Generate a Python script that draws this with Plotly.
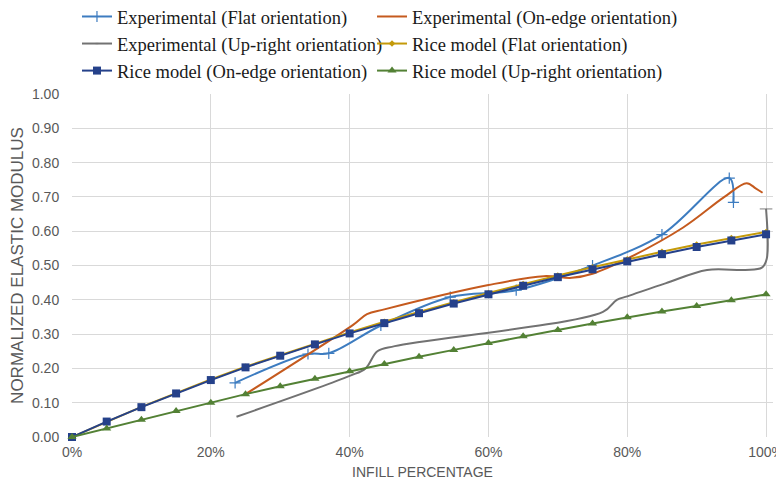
import plotly.graph_objects as go

# ---------------- data ----------------
infill_model = [0, 5, 10, 15, 20, 25, 30, 35, 40, 45, 50, 55, 60, 65, 70, 75, 80, 85, 90, 95, 100]
rice_flat = [0, 0.045, 0.088, 0.128, 0.168, 0.205, 0.239, 0.272, 0.305, 0.336, 0.365, 0.393,
             0.420, 0.446, 0.471, 0.495, 0.518, 0.540, 0.561, 0.580, 0.598]
rice_onedge = [0, 0.045, 0.087, 0.127, 0.166, 0.203, 0.237, 0.270, 0.302, 0.332, 0.361, 0.389,
               0.416, 0.441, 0.466, 0.489, 0.512, 0.533, 0.554, 0.573, 0.591]
rice_upright = [0, 0.025, 0.050, 0.076, 0.100, 0.125, 0.148, 0.170, 0.192, 0.213, 0.234, 0.254,
                0.274, 0.294, 0.312, 0.331, 0.349, 0.366, 0.382, 0.399, 0.416]

exp_flat_x = [23.5, 34, 37, 44.5, 54.5, 64, 75, 85, 94.7, 95.3]
exp_flat_y = [0.158, 0.242, 0.244, 0.325, 0.408, 0.428, 0.500, 0.590, 0.755, 0.684]

exp_edge_x = [25, 40.5, 42.5, 45, 60, 68, 72, 75, 80, 88, 94, 97.2, 98.5, 99.5]
exp_edge_y = [0.125, 0.327, 0.358, 0.372, 0.443, 0.469, 0.464, 0.476, 0.520, 0.610, 0.700, 0.740, 0.725, 0.712]

exp_up_x = [23.7, 40, 42.3, 44, 46.5, 76.5, 78.5, 80, 85.5, 91.5, 97, 99.4, 100.1, 100]
exp_up_y = [0.059, 0.178, 0.200, 0.250, 0.265, 0.365, 0.400, 0.410, 0.448, 0.487, 0.487, 0.494, 0.520, 0.665]

x_ticks = [0, 20, 40, 60, 80, 100]
x_tick_text = ["0%", "20%", "40%", "60%", "80%", "100%"]
y_ticks = [0, 0.1, 0.2, 0.3, 0.4, 0.5, 0.6, 0.7, 0.8, 0.9, 1.0]

# ---------------- figure ----------------
fig = go.Figure()

fig.add_trace(go.Scatter(
    x=exp_flat_x, y=exp_flat_y, name="Experimental (Flat orientation)", legend="legend",
    mode="lines+markers", line=dict(color="#3D7CC0", width=2, shape="spline"),
    marker=dict(symbol="cross-thin", size=8, line=dict(color="#3D7CC0", width=1.2)),
    cliponaxis=False))
fig.add_trace(go.Scatter(
    x=exp_edge_x, y=exp_edge_y, name="Experimental (On-edge orientation)", legend="legend2",
    mode="lines", line=dict(color="#C55A1E", width=2, shape="spline"),
    cliponaxis=False))
up_marker_sizes = [0] * (len(exp_up_x) - 1) + [9]
fig.add_trace(go.Scatter(
    x=exp_up_x, y=exp_up_y, name="Experimental (Up-right orientation)", legend="legend",
    mode="lines+markers", line=dict(color="#727272", width=2, shape="spline"),
    marker=dict(symbol="line-ew", size=up_marker_sizes, line=dict(color="#727272", width=1.3)),
    cliponaxis=False))
fig.add_trace(go.Scatter(
    x=infill_model, y=rice_flat, name="Rice model (Flat orientation)", legend="legend2",
    mode="lines+markers", line=dict(color="#C49A0A", width=2),
    marker=dict(symbol="diamond", size=5, color="#C49A0A"),
    cliponaxis=False))
fig.add_trace(go.Scatter(
    x=infill_model, y=rice_onedge, name="Rice model (On-edge orientation)", legend="legend",
    mode="lines+markers", line=dict(color="#25418A", width=2),
    marker=dict(symbol="square", size=8, color="#25418A"),
    cliponaxis=False))
fig.add_trace(go.Scatter(
    x=infill_model, y=rice_upright, name="Rice model (Up-right orientation)", legend="legend2",
    mode="lines+markers", line=dict(color="#538135", width=2),
    marker=dict(symbol="triangle-up", size=8, color="#538135"),
    cliponaxis=False))

legend_font = dict(family="Liberation Serif, Times New Roman, serif", size=18.5, color="#1a1a1a")
fig.update_layout(
    width=776, height=483,
    margin=dict(l=64, r=11, t=86, b=54, autoexpand=False),
    paper_bgcolor="white", plot_bgcolor="white",
    font=dict(family="Liberation Sans, Arial, sans-serif", color="#595959"),
    showlegend=True,
    legend=dict(
        orientation="v", xref="paper", yref="paper",
        x=0.0071, y=1.28, xanchor="left", yanchor="top",
        itemwidth=30, font=legend_font, bgcolor="rgba(0,0,0,0)",
    ),
    legend2=dict(
        orientation="v", xref="paper", yref="paper",
        x=0.428, y=1.28, xanchor="left", yanchor="top",
        itemwidth=30, font=legend_font, bgcolor="rgba(0,0,0,0)",
    ),
    xaxis=dict(
        range=[0, 101], tickvals=x_ticks, ticktext=x_tick_text,
        showgrid=True, gridcolor="#D9D9D9", gridwidth=1,
        zeroline=False, showline=False,
        ticks="outside", ticklen=2, tickcolor="rgba(0,0,0,0)",
        tickfont=dict(size=14, color="#595959"),
        title=dict(text="INFILL PERCENTAGE", font=dict(size=14, color="#595959"), standoff=8),
    ),
    yaxis=dict(
        range=[0, 1.0], tickvals=y_ticks, tickformat=".2f",
        showgrid=True, gridcolor="#D9D9D9", gridwidth=1,
        zeroline=False, showline=False,
        ticks="outside", ticklen=9, tickcolor="rgba(0,0,0,0)",
        tickfont=dict(size=14, color="#595959"),
        title=dict(text="NORMALIZED ELASTIC MODULUS", font=dict(size=17, color="#595959"), standoff=10),
    ),
)

fig.write_html("out.html")
